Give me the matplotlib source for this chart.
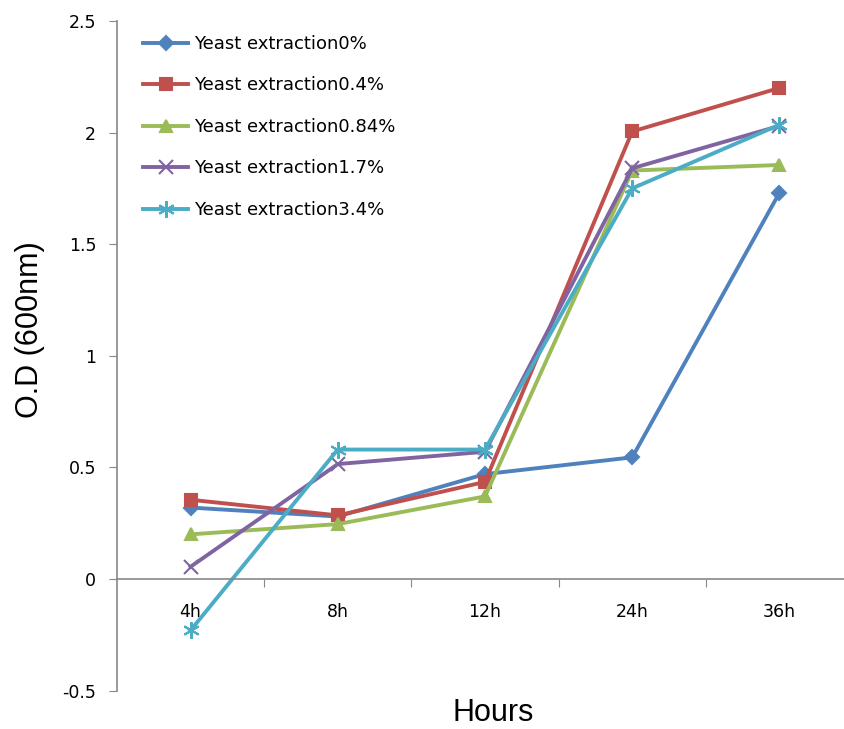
import numpy as np
import matplotlib
matplotlib.use("Agg")
import matplotlib.pyplot as plt

# 数据
hours = ["4h", "8h", "12h", "24h", "36h"]
labels = ["Yeast extraction0%", "Yeast extraction0.4%", "Yeast extraction0.84%",
          "Yeast extraction1.7%", "Yeast extraction3.4%"]
od_0 = [0.32, 0.28, 0.47, 0.545, 1.73]
od_04 = [0.355, 0.285, 0.435, 2.005, 2.20]
od_084 = [0.20, 0.246, 0.37, 1.83, 1.855]
od_17 = [0.055, 0.515, 0.57, 1.84, 2.03]
od_34 = [-0.23, 0.58, 0.58, 1.75, 2.035]

colors = ["#4F81BD", "#C0504D", "#9BBB59", "#8064A2", "#4BACC6"]
markers = ["D", "s", "^", "x", (6, 2, 0)]
msizes = [7, 9, 9, 10, 12]

W, H = 845, 729
fig = plt.figure(figsize=(W / 100, H / 100), dpi=100)
ax = fig.add_axes([117 / W, (H - 690.6) / H, (853 - 117) / W, (690.6 - 21) / H])

x = np.arange(len(hours))
series = [od_0, od_04, od_084, od_17, od_34]
for ys, lab, c, m, ms in zip(series, labels, colors, markers, msizes):
    ax.plot(x, ys, color=c, lw=2.8, marker=m, markersize=ms,
            markeredgewidth=1.5, markeredgecolor=c, markerfacecolor=c,
            label=lab, clip_on=False)

ax.set_xlim(-0.5, 4.5)
ax.set_ylim(-0.5, 2.5)
ax.set_yticks([-0.5, 0, 0.5, 1, 1.5, 2, 2.5])
ax.set_yticklabels(["-0.5", "0", "0.5", "1", "1.5", "2", "2.5"])

# 类别之间的刻度，标签放在类别中心
ax.set_xticks(np.arange(0.5, 4.5, 1))
ax.set_xticklabels([])
ax.set_xticks(x, minor=True)
ax.set_xticklabels(hours, minor=True)
ax.tick_params(axis="x", which="minor", length=0, pad=17, labelsize=12.5)
ax.tick_params(axis="x", which="major", length=6, color="#888888", direction="out")
ax.tick_params(axis="y", length=6, color="#888888", pad=9, labelsize=12.5)

for s in ["top", "right"]:
    ax.spines[s].set_visible(False)
ax.spines["bottom"].set_position(("data", 0))
for s in ["left", "bottom"]:
    ax.spines[s].set_color("#888888")
    ax.spines[s].set_linewidth(1.2)

fig.text(30 / W, 1 - 330 / H, "O.D (600nm)", rotation=90, ha="center", va="center",
         fontsize=22, family="Liberation Sans")
fig.text(493 / W, 1 - 713 / H, "Hours", ha="center", va="center",
         fontsize=22, family="Liberation Sans")

ax.legend(loc="upper left", bbox_to_anchor=(143 / W, 1 - 35 / H),
          bbox_transform=fig.transFigure, frameon=False, fontsize=13,
          borderpad=0, borderaxespad=0, handlelength=2.5, handletextpad=0.35,
          labelspacing=1.3)

fig.savefig("out.png", dpi=100)
